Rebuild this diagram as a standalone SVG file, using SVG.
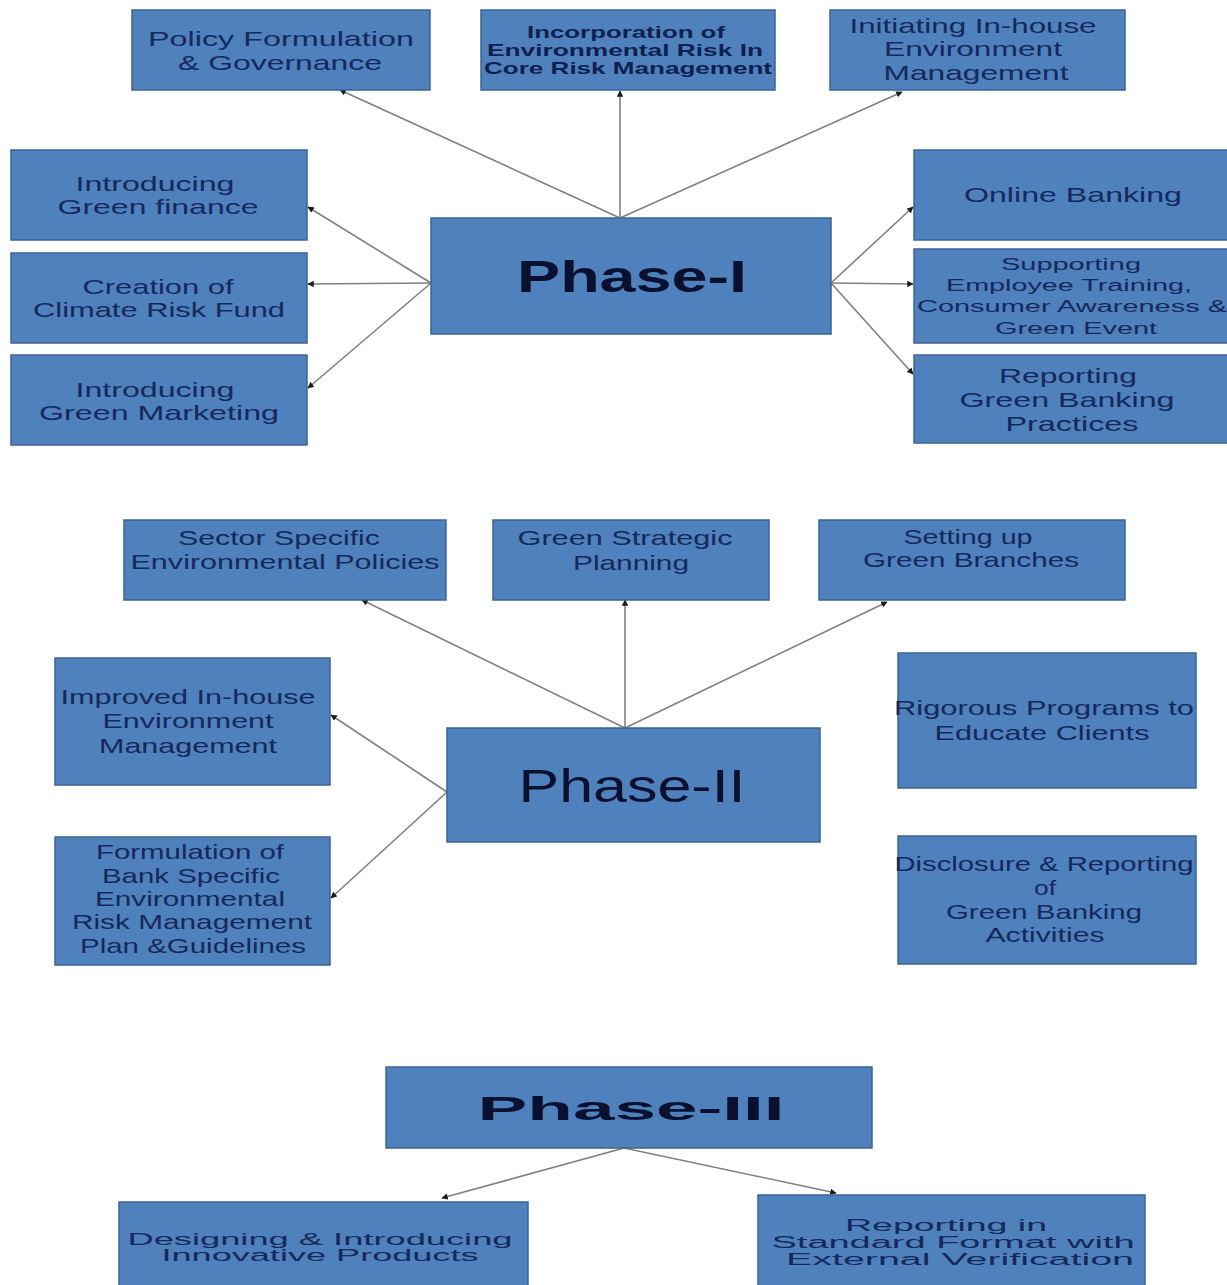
<svg xmlns="http://www.w3.org/2000/svg" width="1227" height="1285" viewBox="0 0 1227 1285">
<defs>
<style>
.box{fill:#4f81bd;stroke:#3b6496;stroke-width:1.5}
.t{font-family:"Liberation Sans",Arial,sans-serif;font-size:21px;fill:#16285c;text-anchor:middle}
.tb{font-family:"Liberation Sans",Arial,sans-serif;font-size:17px;font-weight:bold;fill:#0f1f4f;text-anchor:middle}
.ts{font-family:"Liberation Sans",Arial,sans-serif;font-size:16px;fill:#16285c;text-anchor:middle}
.ph{font-family:"Liberation Sans",Arial,sans-serif;fill:#0a1030;text-anchor:middle}
.c{stroke:#808080;stroke-width:1.6;fill:none;marker-end:url(#ah)}
</style>
<marker id="ah" viewBox="0 0 10 10" refX="9" refY="5" markerWidth="4" markerHeight="4" orient="auto" markerUnits="strokeWidth">
<path d="M0,0 L10,5 L0,10 z" fill="#1a1a1a"/>
</marker>
</defs>
<rect width="1227" height="1285" fill="#ffffff"/>

<g id="connectors">
<line class="c" x1="620" y1="218" x2="340" y2="90"/>
<line class="c" x1="620" y1="218" x2="620" y2="91"/>
<line class="c" x1="620" y1="218" x2="902" y2="92"/>
<line class="c" x1="431" y1="283" x2="308" y2="207"/>
<line class="c" x1="431" y1="283" x2="308" y2="284"/>
<line class="c" x1="431" y1="283" x2="308" y2="388"/>
<line class="c" x1="831" y1="283" x2="913" y2="207"/>
<line class="c" x1="831" y1="283" x2="913" y2="284"/>
<line class="c" x1="831" y1="283" x2="913" y2="374"/>
<line class="c" x1="625" y1="728" x2="362" y2="600"/>
<line class="c" x1="625" y1="728" x2="625" y2="600"/>
<line class="c" x1="625" y1="728" x2="887" y2="602"/>
<line class="c" x1="447" y1="792" x2="331" y2="715"/>
<line class="c" x1="447" y1="792" x2="331" y2="898"/>
<line class="c" x1="624" y1="1148" x2="442" y2="1198"/>
<line class="c" x1="624" y1="1148" x2="836" y2="1193"/>
</g>

<g id="policy">
<rect class="box" x="132" y="10" width="298" height="80"/>
<text class="t" x="281" y="46" textLength="266" lengthAdjust="spacingAndGlyphs">Policy Formulation</text>
<text class="t" x="280" y="70" textLength="204" lengthAdjust="spacingAndGlyphs">&amp; Governance</text>
</g>
<g id="incorporation">
<rect class="box" x="481" y="10" width="294" height="80"/>
<text class="tb" x="626" y="38" textLength="198" lengthAdjust="spacingAndGlyphs">Incorporation of</text>
<text class="tb" x="625" y="56" textLength="276" lengthAdjust="spacingAndGlyphs">Environmental Risk  In</text>
<text class="tb" x="628" y="74" textLength="288" lengthAdjust="spacingAndGlyphs">Core Risk Management</text>
</g>
<g id="initiating">
<rect class="box" x="830" y="10" width="295" height="80"/>
<text class="t" x="973" y="33" textLength="247" lengthAdjust="spacingAndGlyphs">Initiating In-house</text>
<text class="t" x="973" y="56" textLength="178" lengthAdjust="spacingAndGlyphs">Environment</text>
<text class="t" x="976" y="80" textLength="185" lengthAdjust="spacingAndGlyphs">Management</text>
</g>

<g id="green-finance">
<rect class="box" x="11" y="150" width="296" height="90"/>
<text class="t" x="155" y="191" textLength="159" lengthAdjust="spacingAndGlyphs">Introducing</text>
<text class="t" x="158" y="214" textLength="201" lengthAdjust="spacingAndGlyphs">Green finance</text>
</g>
<g id="climate-fund">
<rect class="box" x="11" y="253" width="296" height="90"/>
<text class="t" x="158" y="294" textLength="151" lengthAdjust="spacingAndGlyphs">Creation of</text>
<text class="t" x="159" y="317" textLength="252" lengthAdjust="spacingAndGlyphs">Climate Risk Fund</text>
</g>
<g id="green-marketing">
<rect class="box" x="11" y="355" width="296" height="90"/>
<text class="t" x="155" y="397" textLength="159" lengthAdjust="spacingAndGlyphs">Introducing</text>
<text class="t" x="159" y="420" textLength="240" lengthAdjust="spacingAndGlyphs">Green Marketing</text>
</g>

<g id="phase1">
<rect class="box" x="431" y="218" width="400" height="116"/>
<text class="ph" x="632" y="292" font-size="44" font-weight="bold" textLength="230" lengthAdjust="spacingAndGlyphs">Phase-I</text>
</g>

<g id="online-banking">
<rect class="box" x="914" y="150" width="320" height="90"/>
<text class="t" x="1073" y="202" textLength="218" lengthAdjust="spacingAndGlyphs">Online Banking</text>
</g>
<g id="supporting">
<rect class="box" x="914" y="249" width="320" height="94"/>
<text class="ts" x="1071" y="270" font-size="18" textLength="140" lengthAdjust="spacingAndGlyphs">Supporting</text>
<text class="ts" x="1069" y="291" font-size="18" textLength="246" lengthAdjust="spacingAndGlyphs">Employee Training,</text>
<text class="ts" x="1072" y="312" font-size="18" textLength="310" lengthAdjust="spacingAndGlyphs">Consumer Awareness &amp;</text>
<text class="ts" x="1076" y="334" font-size="18" textLength="162" lengthAdjust="spacingAndGlyphs">Green Event</text>
</g>
<g id="reporting-practices">
<rect class="box" x="914" y="355" width="320" height="88"/>
<text class="t" x="1068" y="383" textLength="138" lengthAdjust="spacingAndGlyphs">Reporting</text>
<text class="t" x="1067" y="407" textLength="215" lengthAdjust="spacingAndGlyphs">Green Banking</text>
<text class="t" x="1072" y="431" textLength="133" lengthAdjust="spacingAndGlyphs">Practices</text>
</g>

<g id="sector-specific">
<rect class="box" x="124" y="520" width="322" height="80"/>
<text class="t" x="279" y="545" textLength="202" lengthAdjust="spacingAndGlyphs">Sector Specific</text>
<text class="t" x="285" y="569" textLength="309" lengthAdjust="spacingAndGlyphs">Environmental Policies</text>
</g>
<g id="green-strategic">
<rect class="box" x="493" y="520" width="276" height="80"/>
<text class="t" x="625" y="545" textLength="215" lengthAdjust="spacingAndGlyphs">Green Strategic</text>
<text class="t" x="631" y="570" textLength="116" lengthAdjust="spacingAndGlyphs">Planning</text>
</g>
<g id="green-branches">
<rect class="box" x="819" y="520" width="306" height="80"/>
<text class="t" x="968" y="544" textLength="129" lengthAdjust="spacingAndGlyphs">Setting up</text>
<text class="t" x="971" y="567" textLength="216" lengthAdjust="spacingAndGlyphs">Green Branches</text>
</g>

<g id="improved-inhouse">
<rect class="box" x="55" y="658" width="275" height="127"/>
<text class="t" x="188" y="704" textLength="255" lengthAdjust="spacingAndGlyphs">Improved In-house</text>
<text class="t" x="188" y="728" textLength="171" lengthAdjust="spacingAndGlyphs">Environment</text>
<text class="t" x="188" y="753" textLength="178" lengthAdjust="spacingAndGlyphs">Management</text>
</g>
<g id="formulation">
<rect class="box" x="55" y="837" width="275" height="128"/>
<text class="t" x="190" y="859" textLength="188" lengthAdjust="spacingAndGlyphs">Formulation of</text>
<text class="t" x="191" y="883" textLength="178" lengthAdjust="spacingAndGlyphs">Bank Specific</text>
<text class="t" x="190" y="906" textLength="190" lengthAdjust="spacingAndGlyphs">Environmental</text>
<text class="t" x="192" y="929" textLength="240" lengthAdjust="spacingAndGlyphs">Risk Management</text>
<text class="t" x="193" y="953" textLength="226" lengthAdjust="spacingAndGlyphs">Plan &amp;Guidelines</text>
</g>

<g id="phase2">
<rect class="box" x="447" y="728" width="373" height="114"/>
<text class="ph" x="632" y="802" font-size="46" textLength="227" lengthAdjust="spacingAndGlyphs">Phase-II</text>
</g>

<g id="rigorous">
<rect class="box" x="898" y="653" width="298" height="135"/>
<text class="t" x="1044" y="715" textLength="300" lengthAdjust="spacingAndGlyphs">Rigorous Programs to</text>
<text class="t" x="1042" y="740" textLength="215" lengthAdjust="spacingAndGlyphs">Educate Clients</text>
</g>
<g id="disclosure">
<rect class="box" x="898" y="836" width="298" height="128"/>
<text class="t" x="1044" y="871" textLength="299" lengthAdjust="spacingAndGlyphs">Disclosure &amp; Reporting</text>
<text class="t" x="1045" y="895" textLength="22" lengthAdjust="spacingAndGlyphs">of</text>
<text class="t" x="1044" y="919" textLength="196" lengthAdjust="spacingAndGlyphs">Green Banking</text>
<text class="t" x="1045" y="942" textLength="119" lengthAdjust="spacingAndGlyphs">Activities</text>
</g>

<g id="phase3">
<rect class="box" x="386" y="1067" width="486" height="81"/>
<text class="ph" x="631" y="1120" font-size="34" font-weight="bold" textLength="307" lengthAdjust="spacingAndGlyphs">Phase-III</text>
</g>
<g id="designing">
<rect class="box" x="119" y="1202" width="409" height="90"/>
<text class="ts" x="320" y="1245" textLength="385" lengthAdjust="spacingAndGlyphs">Designing &amp; Introducing</text>
<text class="ts" x="320" y="1261" textLength="317" lengthAdjust="spacingAndGlyphs">Innovative Products</text>
</g>
<g id="standard-format">
<rect class="box" x="758" y="1195" width="387" height="97"/>
<text class="ts" x="946" y="1231" textLength="202" lengthAdjust="spacingAndGlyphs">Reporting in</text>
<text class="ts" x="953" y="1248" textLength="363" lengthAdjust="spacingAndGlyphs">Standard Format with</text>
<text class="ts" x="960" y="1265" textLength="348" lengthAdjust="spacingAndGlyphs">External Verification</text>
</g>
</svg>
